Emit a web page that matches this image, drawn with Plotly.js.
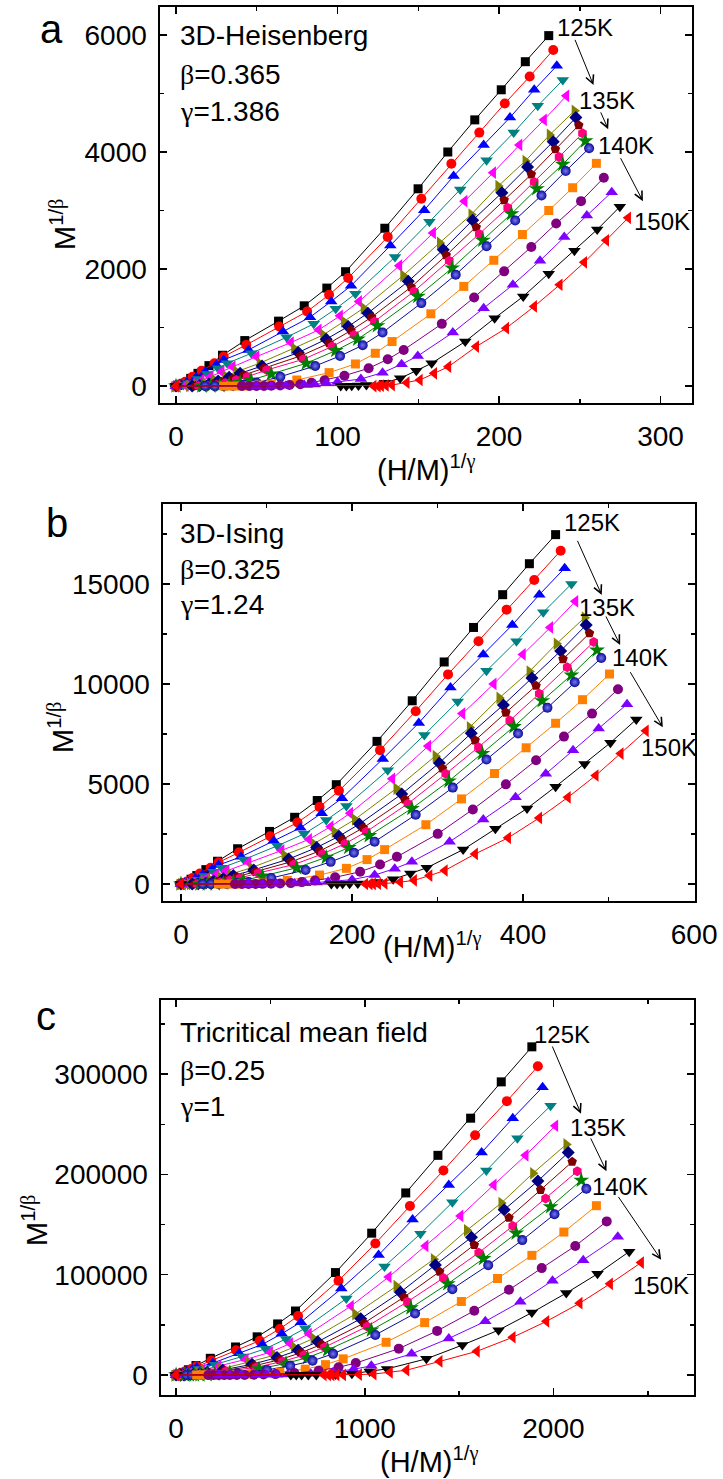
<!DOCTYPE html>
<html>
<head>
<meta charset="utf-8">
<script src="https://cdn.plot.ly/plotly-3.0.1.min.js"></script>
<style>html,body{margin:0;padding:0;background:#fff;}#chart{width:723px;height:1479px;}</style>
</head>
<body>
<div id="chart"></div>
<script>
// Temperatures of the isotherms
const TEMPS = [125,127,129,131,133,135,136,137,138,139,140,142,144,146,148,150];
// Values read in the 3D-Heisenberg panel: (H/M)^(1/1.386) and M^(1/0.365)
const hx125 = [0,1.1,4.5,9.1,13.6,20.4,28.8,42.6,63.5,79.4,93.4,105.0,129.3,149.9,168.3,185.0,201.4,216.3,230.8];
const my125 = [0,11,46,131,217,349,526,777,1109,1371,1674,1954,2697,3371,4000,4549,5063,5543,5989];
const hx127 = [0,2.3,5.7,10.2,15.9,23.8,29.5,43.5,63.9,81.2,94.8,106.6,131.1,151.9,170.5,187.8,203.6,219.0,233.6];
const my127 = [0,29,74,160,263,389,503,703,1017,1274,1560,1846,2549,3200,3800,4331,4829,5291,5743];
const hx129 = [0,3.4,6.8,12.5,18.1,24.9,29.5,44.9,66.2,83.0,96.1,108.4,132.7,153.7,171.9,190.5,206.8,221.8,235.8];
const my129 = [0,23,63,149,246,360,446,617,931,1177,1446,1714,2400,3006,3589,4120,4589,5063,5474];
const hx131 = [0,4.5,7.9,13.6,19.3,26.1,31.7,46.7,68.5,85.3,98.9,111.1,135.6,156.9,176.0,192.3,209.1,224.0,239.5];
const my131 = [0,17,46,120,206,303,389,560,834,1063,1320,1577,2206,2806,3360,3857,4331,4789,5229];
const hx133 = [0,6.0,10.2,15.9,21.5,28.3,35.1,49.9,71.2,88.4,101.6,113.4,138.3,159.2,178.7,196.4,212.7,227.9,241.7];
const my133 = [0,8,34,91,160,246,331,503,743,960,1200,1446,2057,2617,3160,3646,4120,4549,4960];
const hx135 = [0,8.0,12.5,18.1,23.8,30.6,37.4,51.7,73.0,91.2,103.9,116.1,140.6,163.3,182.8,199.5,216.3,231.3,246.7];
const my135 = [0,3,17,46,103,171,246,389,646,874,1103,1331,1886,2446,2931,3417,3846,4291,4703];
const hx136 = [0,10.0,14.7,20.4,26.1,32.9,39.7,53.3,75.7,93.0,106.6,118.8,143.8,165.5,183.7,201.8,217.7,233.6,247.6];
const my136 = [0,2,11,34,86,149,217,343,571,800,1017,1246,1789,2331,2834,3303,3743,4177,4589];
const hx137 = [0,12.0,17.0,22.7,28.3,35.1,42.0,54.4,77.1,94.8,108.4,121.1,145.6,167.3,185.9,203.2,220.0,234.9,249.4];
const my137 = [0,1,6,29,69,126,189,303,514,731,949,1177,1691,2234,2714,3177,3617,4046,4457];
const hx138 = [0,14.0,19.5,24.9,30.6,37.4,44.2,56.2,78.9,96.6,110.2,122.9,147.4,169.2,187.8,205.4,221.8,237.2,251.7];
const my138 = [0,0,4,17,51,103,160,274,457,674,874,1103,1617,2143,2600,3046,3486,3914,4320];
const hx139 = [0,16.0,21.5,27.2,32.9,39.7,46.5,59.0,80.7,98.9,112.5,124.7,149.7,171.0,190.0,207.7,223.4,239.5,253.5];
const my139 = [0,0,2,6,23,57,103,206,389,606,800,1029,1531,2017,2491,2943,3371,3789,4189];
const hx140 = [0,18.0,24.0,29.5,35.1,42.0,49.9,64.6,86.2,101.6,115.6,127.9,151.9,173.2,192.3,210.0,226.3,241.3,255.8];
const my140 = [0,0,0,0,6,23,57,160,343,514,697,914,1417,1903,2389,2829,3257,3674,4063];
const hx142 = [0,29.5,34.0,38.5,43.0,47.6,52.0,59.0,74.8,94.8,111.1,123.4,133.8,157.8,178.2,196.8,214.5,230.8,245.6,260.3];
const my142 = [0,0,0,0,0,11,17,34,103,229,377,560,760,1234,1703,2149,2589,3000,3389,3806];
const hx144 = [0,40.8,45.5,49.9,54.5,59.0,64.5,70.3,77.0,83.9,92.0,104.3,119.3,131.1,141.0,164.6,184.6,203.2,220.0,235.4,250.8,264.9];
const my144 = [0,0,0,0,0,6,8,17,30,57,100,177,303,457,617,1063,1514,1960,2377,2777,3160,3560];
const hx146 = [0,49.9,59.0,68.0,79.4,86.0,93.0,100.0,114.5,127.9,139.7,149.7,171.4,190.5,208.6,225.4,240.4,254.4,269.8];
const my146 = [0,0,0,6,17,25,46,70,120,229,371,514,914,1331,1731,2143,2549,2914,3314];
const hx148 = [0,102.0,105.5,108.8,113.0,117.9,129.3,138.8,148.8,158.3,179.1,197.3,215.0,230.8,246.7,260.8,274.8];
const my148 = [0,0,0,6,10,17,57,131,263,389,760,1160,1531,1920,2314,2674,3063];
const hx150 = [0,122.4,125.0,127.0,130.0,133.8,142.9,151.0,159.9,168.7,185.9,204.5,221.8,237.6,252.8,266.4,280.0];
const my150 = [0,0,0,6,10,17,57,103,217,331,674,989,1360,1731,2114,2491,2874];

const HX = [hx125,hx127,hx129,hx131,hx133,hx135,hx136,hx137,hx138,hx139,hx140,hx142,hx144,hx146,hx148,hx150];
const MY = [my125,my127,my129,my131,my133,my135,my136,my137,my138,my139,my140,my142,my144,my146,my148,my150];

// Critical exponents of the three models (panel a, b, c)
const MODELS = ['3D-Heisenberg','3D-Ising','Tricritical mean field'];
const BETA = [0.365, 0.325, 0.25];
const GAMMA = [1.386, 1.24, 1];
const BETA_LABEL = ['0.365','0.325','0.25'];
const GAMMA_LABEL = ['1.386','1.24','1'];

const COLORS = ['#000000','#FF0000','#0000FF','#008080','#FF00FF','#808000','#000080','#800000',
                '#FF0080','#008000','#0A0A9A','#FF8000','#800080','#8000FF','#000000','#FF0000'];
const SYMBOLS = ['square','circle','triangle-up','triangle-down','triangle-left','triangle-right','diamond','pentagon',
                 'hexagon','star','circle','square','circle','triangle-up','triangle-down','triangle-left'];
const SIZES = [9,10,11,11,11,11,10,10,10,12,10,9,10,11,11,11];

const F = 'Liberation Sans, Arial, Helvetica, sans-serif';
const SERIF = 'Liberation Serif';
const W = 723, H = 1479;

const traces = [];
for (let p = 0; p < 3; p++) {
  const ex = GAMMA[0] / GAMMA[p];   // (H/M)^(1/gamma) rescaling from the Heisenberg values
  const ey = BETA[0] / BETA[p];     // M^(1/beta) rescaling
  const sfx = p === 0 ? '' : String(p + 1);
  for (let i = 0; i < TEMPS.length; i++) {
    const mk = {symbol: SYMBOLS[i], size: SIZES[i], color: COLORS[i], line: {width: 0}};
    if (i === 10) mk.gradient = {type: 'radial', color: '#7878f0'};
    traces.push({
      type: 'scatter', mode: 'lines+markers',
      name: TEMPS[i] + 'K',
      x: HX[i].map(v => Math.pow(v, ex)),
      y: MY[i].map(v => Math.pow(v, ey)),
      xaxis: 'x' + sfx, yaxis: 'y' + sfx,
      line: {color: COLORS[i], width: 1},
      marker: mk,
      hoverinfo: 'skip'
    });
  }
}

function ax(domain, range, dtick, mdtick, anchor, standoff) {
  return {
    domain: domain, range: range, anchor: anchor,
    showline: true, linecolor: '#000', linewidth: 1.6, mirror: 'ticks',
    ticks: 'inside', ticklen: 7, tickwidth: 1.5, tickcolor: '#000',
    tick0: 0, dtick: dtick, tickformat: 'd', exponentformat: 'none',
    ticklabelstandoff: standoff,
    minor: {dtick: mdtick, ticks: 'inside', ticklen: 4, tickwidth: 1.5, tickcolor: '#000', showgrid: false},
    showgrid: false, zeroline: false, fixedrange: true,
    tickfont: {family: F, size: 28, color: '#000'}
  };
}
const yd = (top, bottom) => [1 - bottom / H, 1 - top / H];

const layout = {
  width: W, height: H, margin: {l: 0, r: 0, t: 0, b: 0},
  paper_bgcolor: '#fff', plot_bgcolor: '#fff', showlegend: false, hovermode: false,
  xaxis:  ax([160 / W, 692 / W], [-9.9, 319.5], 100, 50, 'y', 8),
  yaxis:  ax(yd(7, 403), [-290, 6478], 2000, 1000, 'x', 6),
  xaxis2: ax([163 / W, 695 / W], [-21, 601], 200, 100, 'y2', 8),
  yaxis2: ax(yd(504, 901), [-850, 19000], 5000, 2500, 'x2', 6),
  xaxis3: ax([161 / W, 694 / W], [-80, 2745], 1000, 500, 'y3', 8),
  yaxis3: ax(yd(1000, 1395), [-20000, 374000], 100000, 50000, 'x3', 6),
  annotations: []
};

const A = layout.annotations;
const px = (x, y) => ({xref: 'paper', yref: 'paper', x: x / W, y: 1 - y / H});
const greek = g => '<span style="font-family:' + SERIF + '">' + g + '</span>';

// panel letters
[['a', 52, 29], ['b', 57, 523], ['c', 46, 1016]].forEach(d => {
  A.push(Object.assign(px(d[1], d[2]), {text: d[0], showarrow: false, xanchor: 'center', yanchor: 'middle',
    font: {family: F, size: 40, color: '#000'}}));
});
// axis titles
[[63, 225], [61, 728], [35, 1221]].forEach(d => {
  A.push(Object.assign(px(d[0], d[1]), {text: 'M<sup>1/' + greek('β') + '</sup>', showarrow: false,
    textangle: -90, xanchor: 'center', yanchor: 'middle', font: {family: F, size: 29, color: '#000'}}));
});
[[426, 468], [432, 945], [429, 1460]].forEach(d => {
  A.push(Object.assign(px(d[0], d[1]), {text: '(H/M)<sup>1/' + greek('γ') + '</sup>', showarrow: false,
    xanchor: 'center', yanchor: 'middle', font: {family: F, size: 29, color: '#000'}}));
});
// model labels
const textY = [[36, 75, 111], [533, 569, 605], [1032, 1070, 1106]];
for (let p = 0; p < 3; p++) {
  const lines = [MODELS[p], greek('β') + '=' + BETA_LABEL[p], greek('γ') + '=' + GAMMA_LABEL[p]];
  lines.forEach((t, k) => {
    A.push(Object.assign(px(178, textY[p][k]), {text: t, showarrow: false, xanchor: 'left', yanchor: 'middle',
      font: {family: F, size: 28, color: '#000'}}));
  });
}
// temperature labels and arrows (data coordinates)
const TLAB = ['125K', '135K', '140K', '150K'];
const labPos = [
  [[253.1, 6131], [266.7, 4874], [278.5, 4103], [301.1, 2817]],
  [[480, 18075], [497.9, 13825], [536.5, 11325], [570.8, 6850]],
  [[2044, 340000], [2235, 246400], [2355, 188400], [2568, 89100]]
];
const arrows = [
  [[246.7, 5943, 258.5, 5143], [262.6, 4703, 267.6, 4389], [274.8, 3920, 289.1, 3160]],
  [[462.8, 17233, 492, 14450], [496, 13450, 513.5, 11950], [524.3, 10667, 563.4, 7833]],
  [[1991, 329100, 2146, 260600], [2194, 237400, 2281, 203300], [2339, 179100, 2571, 114900]]
];
for (let p = 0; p < 3; p++) {
  const sfx = p === 0 ? '' : String(p + 1);
  labPos[p].forEach((q, k) => {
    A.push({xref: 'x' + sfx, yref: 'y' + sfx, x: q[0], y: q[1], text: TLAB[k], showarrow: false,
      xanchor: 'center', yanchor: 'middle', font: {family: F, size: 24, color: '#000'}});
  });
  arrows[p].forEach(a => {
    A.push({xref: 'x' + sfx, yref: 'y' + sfx, axref: 'x' + sfx, ayref: 'y' + sfx,
      ax: a[0], ay: a[1], x: a[2], y: a[3], text: '', showarrow: true,
      arrowhead: 5, arrowsize: 1.6, arrowwidth: 1, arrowcolor: '#000'});
  });
}

Plotly.newPlot('chart', traces, layout, {staticPlot: true, displayModeBar: false});
</script>
</body>
</html>
